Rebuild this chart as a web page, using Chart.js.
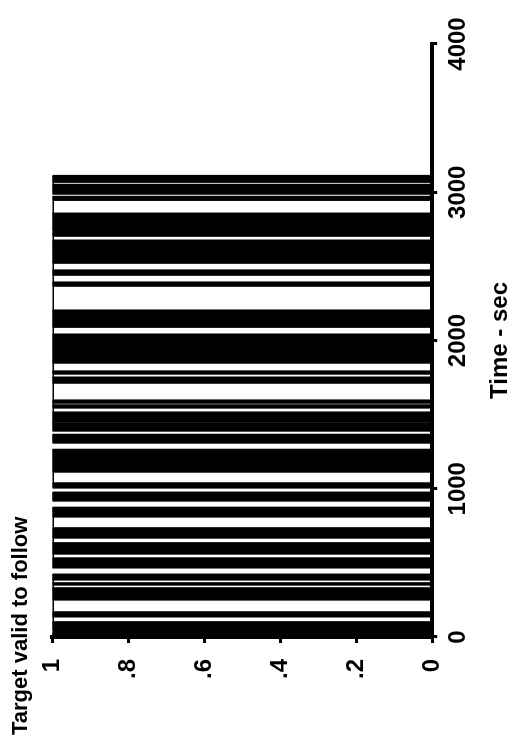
<!DOCTYPE html>
<html>
<head>
<meta charset="utf-8">
<script src="https://cdn.jsdelivr.net/npm/chart.js@4.4.1/dist/chart.umd.min.js"></script>
<style>
  html, body { margin: 0; padding: 0; background: #fff; overflow: hidden; }
  /* the chart is drawn landscape, then turned a quarter turn to the left */
  #wrap {
    position: absolute; left: 0; top: 0; width: 752px; height: 512px;
    transform-origin: 0 0; transform: translateY(752px) rotate(-90deg);
  }
</style>
</head>
<body>
<div id="wrap"><canvas id="chart" width="752" height="512"></canvas></div>
<script>
// spans (sec) where the flag toggles so fast the plot turns solid black
const bandStart = [0, 47, 135, 249, 350, 384, 472, 559, 667, 809, 923, 1011, 1112, 1314, 1395, 1449,
  1544, 1577, 1712, 1773, 1847, 1914, 2089, 2366, 2440, 2521, 2703, 2743, 2945, 2993, 3067, 3087];
const bandEnd = [27, 101, 168, 330, 364, 418, 532, 634, 735, 869, 971, 1038, 1260, 1361, 1442, 1516,
  1564, 1597, 1752, 1793, 1901, 2042, 2204, 2393, 2474, 2676, 2723, 2858, 2966, 3053, 3080, 3107];
// level held between one band and the next (1 = valid, 0 = not valid)
const gapLevel = [0, 1, 1, 1, 1, 0, 1, 1, 1, 0, 0, 1, 0, 0, 1, 1,
  1, 1, 1, 1, 0, 1, 1, 1, 1, 1, 0, 1, 0, 1, 0];
const timeTicks = [0, 1000, 2000, 3000, 4000];
const valueTicks = [0, 0.2, 0.4, 0.6, 0.8, 1];
const valueTickLabels = ['0', '.2', '.4', '.6', '.8', '1'];

const bandPoints = [];
const signalPoints = [];
bandStart.forEach((s, i) => {
  const e = bandEnd[i];
  const before = i === 0 ? 0 : gapLevel[i - 1];
  const after = i < gapLevel.length ? gapLevel[i] : 0;
  bandPoints.push({ x: s, y: 0 }, { x: s, y: 1 }, { x: e, y: 1 }, { x: e, y: 0 });
  signalPoints.push({ x: s, y: before }, { x: s, y: 1 }, { x: e, y: 1 }, { x: e, y: after });
});

const family = '"Liberation Sans", Arial, Helvetica, sans-serif';
Chart.defaults.font.family = family;
Chart.defaults.color = '#000';

new Chart(document.getElementById('chart'), {
  type: 'line',
  data: {
    datasets: [
      { label: 'toggling', data: bandPoints, borderColor: '#000', backgroundColor: '#000', borderWidth: 1, fill: 'origin', pointRadius: 0, tension: 0 },
      { label: 'valid', data: signalPoints, borderColor: '#000', borderWidth: 3, fill: false, pointRadius: 0, tension: 0 }
    ]
  },
  options: {
    responsive: false,
    animation: false,
    events: [],
    layout: { padding: { left: 17, right: 44, top: 0, bottom: 0 } },
    plugins: {
      legend: { display: false },
      tooltip: { enabled: false },
      title: {
        display: true, text: 'Target valid to follow', align: 'start', color: '#000',
        font: { size: 22, weight: 'bold', lineHeight: 1.2 }, padding: { top: 8, bottom: 18 }
      }
    },
    scales: {
      x: {
        type: 'linear', min: 0, max: 4000,
        afterBuildTicks: (scale) => { scale.ticks = timeTicks.map((value) => ({ value })); },
        ticks: { color: '#000', padding: 7, font: { size: 24, weight: 'bold', lineHeight: 1.2 }, maxRotation: 0, callback: (value) => String(value) },
        grid: { drawOnChartArea: false, drawTicks: true, tickLength: 5, lineWidth: 3, color: '#000' },
        border: { color: '#000', width: 4 },
        title: { display: true, text: 'Time - sec', color: '#000', font: { size: 24, weight: 'bold', lineHeight: 1 }, padding: { top: 8, bottom: 0 } }
      },
      y: {
        min: 0, max: 1,
        afterBuildTicks: (scale) => { scale.ticks = valueTicks.map((value) => ({ value })); },
        afterFit: (scale) => { scale.width = 98; },
        ticks: { color: '#000', padding: 16, font: { size: 24, weight: 'bold' }, callback: (value, index) => valueTickLabels[index] },
        grid: { drawOnChartArea: false, drawTicks: true, tickLength: 6, lineWidth: 3, color: '#000' },
        border: { color: '#000', width: 4 }
      }
    }
  }
});
</script>
</body>
</html>
